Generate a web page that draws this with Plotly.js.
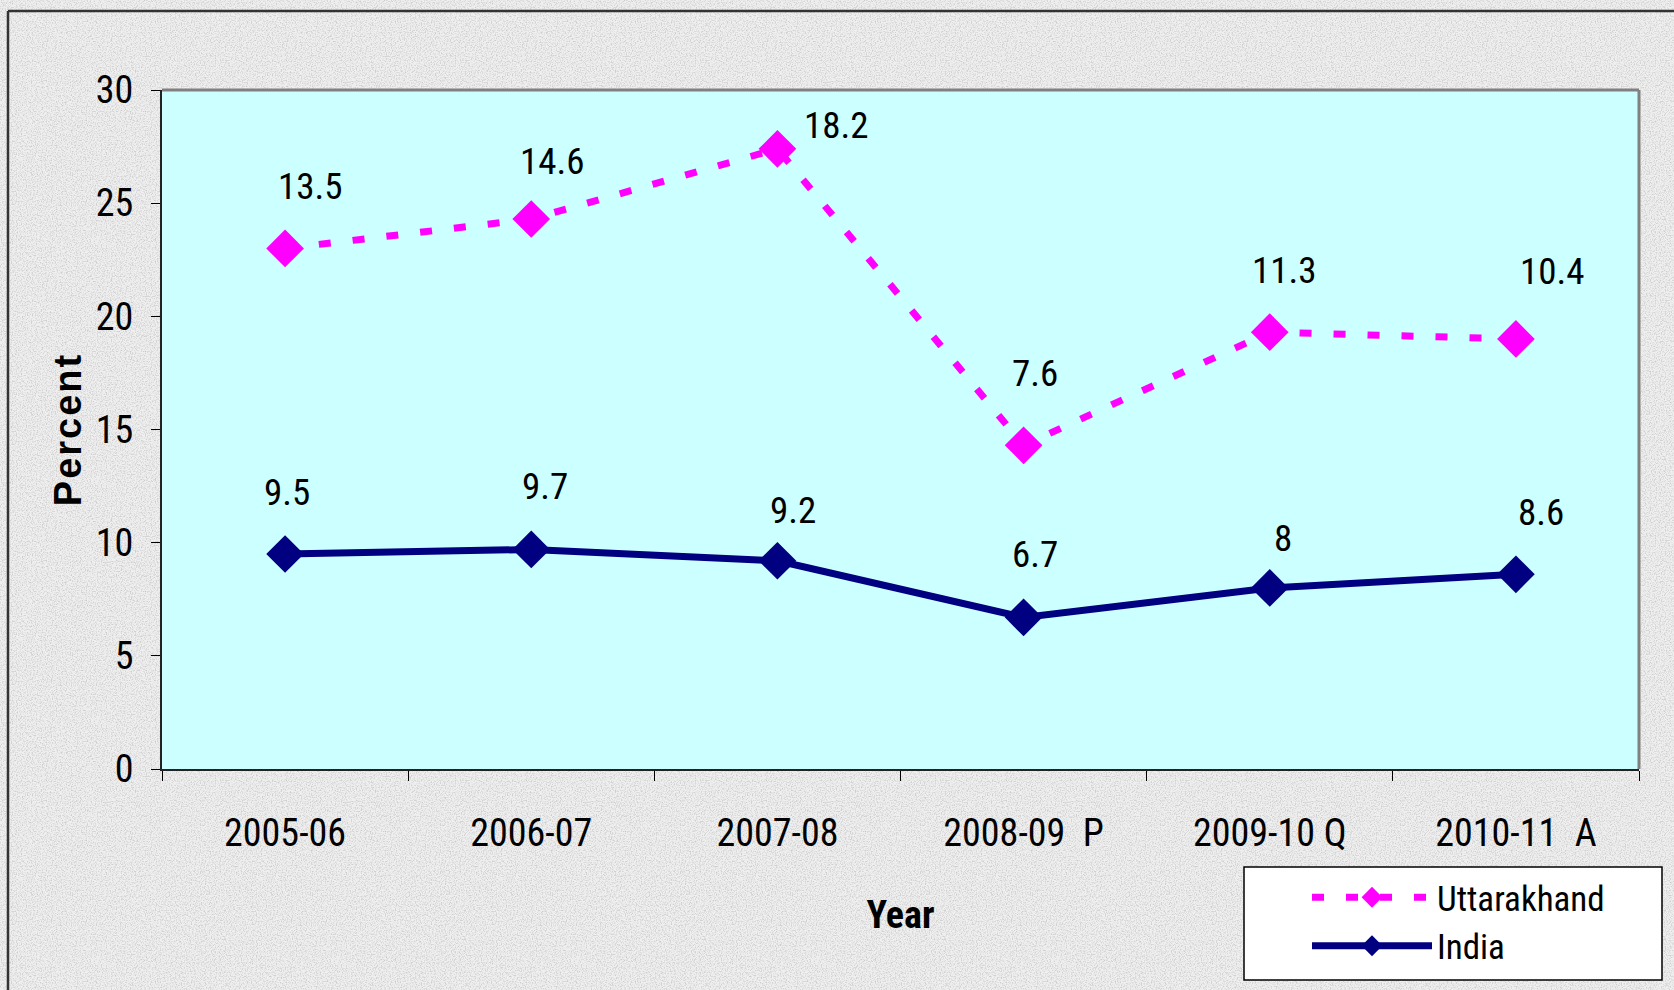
<!DOCTYPE html>
<html>
<head>
<meta charset="utf-8">
<script src="https://cdn.plot.ly/plotly-3.0.1.min.js"></script>
<style>
  html, body { margin: 0; padding: 0; }
  body {
    width: 1674px; height: 990px; overflow: hidden;
    background-color: #e6e6e6;
    background-image: url("data:image/svg+xml;utf8,<svg xmlns='http://www.w3.org/2000/svg' width='240' height='240'><filter id='n'><feTurbulence type='fractalNoise' baseFrequency='0.8' numOctaves='2' stitchTiles='stitch'/><feColorMatrix values='0 0 0 0 0.62  0 0 0 0 0.62  0 0 0 0 0.62  0 0 0 3 -1.3'/></filter><rect width='100%' height='100%' fill='%23efefef'/><rect width='100%' height='100%' filter='url(%23n)'/></svg>");
  }
  #chart { width: 1674px; height: 990px; }
  svg text { font-stretch: condensed; }
  svg text.ytitle { font-stretch: normal; letter-spacing: 2px; }
</style>
</head>
<body>
<div id="chart"></div>
<script>
// ---- data ----
const years = ["2005-06", "2006-07", "2007-08", "2008-09  P", "2009-10 Q", "2010-11  A"];
const uttarakhand = [13.5, 14.6, 18.2, 7.6, 11.3, 10.4];
const india = [9.5, 9.7, 9.2, 6.7, 8, 8.6];
const yTicks = [0, 5, 10, 15, 20, 25, 30];

// ---- layout constants ----
const W = 1674, H = 990;
const M = { l: 162, r: 35, t: 90, b: 221, autoexpand: false };
const pw = W - M.l - M.r, ph = H - M.t - M.b;
const fx = px => (px - M.l) / pw;
const fy = py => (H - M.b - py) / ph;

const NARROW = "Roboto, 'Liberation Sans Narrow', 'Arial Narrow', sans-serif";
const BOLDW = "'Liberation Sans', Arial, sans-serif";

// label nudges (px) to mimic manually placed data labels
const uShiftX = [25, 21, 59, 11, 15, 37], uShiftY = [62, 58, 23, 72, 62, 67];
const iShiftX = [2, 14, 16, 11, 13, 25], iShiftY = [61, 63, 50, 63, 49, 62];

const traces = [
  {
    name: "India", x: years, y: india, type: "scatter", mode: "lines+markers",
    stackgroup: "s", fill: "none",
    line: { color: "#000080", width: 7 },
    marker: { symbol: "diamond", size: 29, color: "#000080" }
  },
  {
    name: "Uttarakhand", x: years, y: uttarakhand, type: "scatter", mode: "lines+markers",
    stackgroup: "s", fill: "none",
    line: { color: "#FF00FF", width: 7, dash: "12px,22px" },
    marker: { symbol: "diamond", size: 29, color: "#FF00FF" }
  }
];

const annotations = [];
years.forEach((c, i) => {
  annotations.push({
    x: c, y: india[i] + uttarakhand[i], xref: "x", yref: "y", text: String(uttarakhand[i]),
    showarrow: false, xshift: uShiftX[i], yshift: uShiftY[i],
    font: { family: NARROW, size: 37, color: "#000" }
  });
  annotations.push({
    x: c, y: india[i], xref: "x", yref: "y", text: String(india[i]),
    showarrow: false, xshift: iShiftX[i], yshift: iShiftY[i],
    font: { family: NARROW, size: 37, color: "#000" }
  });
});

const shapes = [
  // outer frame (top and left visible)
  { type: "line", xref: "paper", yref: "paper", x0: fx(8), x1: fx(W + 5), y0: fy(11), y1: fy(11), line: { color: "#333", width: 2.5 } },
  { type: "line", xref: "paper", yref: "paper", x0: fx(8), x1: fx(8), y0: fy(11), y1: fy(H + 5), line: { color: "#333", width: 2.5 } },
  // plot area border top/right (grey)
  { type: "line", xref: "paper", yref: "paper", x0: 0, x1: 1, y0: 1, y1: 1, line: { color: "#808080", width: 3 } },
  { type: "line", xref: "paper", yref: "paper", x0: 1, x1: 1, y0: 0, y1: 1, line: { color: "#808080", width: 3 } },
  // legend box
  { type: "rect", xref: "paper", yref: "paper", x0: fx(1244), x1: fx(1662), y0: fy(867), y1: fy(980),
    fillcolor: "#ffffff", line: { color: "#000", width: 1.5 }, layer: "above" }
];

const layout = {
  width: W, height: H,
  margin: M,
  paper_bgcolor: "rgba(0,0,0,0)",
  plot_bgcolor: "#CCFFFF",
  showlegend: true,
  legend: {
    x: fx(1307), y: fy(868), xanchor: "left", yanchor: "top",
    bgcolor: "rgba(0,0,0,0)", borderwidth: 0,
    traceorder: "reversed",
    itemwidth: 120,
    font: { family: NARROW, size: 35, color: "#000" },
    tracegroupgap: 0
  },
  xaxis: {
    type: "category", range: [-0.5, 5.5], tickson: "boundaries",
    ticks: "outside", ticklen: 10, tickwidth: 1, tickcolor: "#000",
    showline: true, linecolor: "#222", linewidth: 2,
    showgrid: false, zeroline: false, fixedrange: true,
    ticklabelstandoff: 29,
    tickfont: { family: NARROW, size: 38, color: "#000" },
    title: { text: "<b>Year</b>", standoff: 48, font: { family: NARROW, size: 38, color: "#000" } }
  },
  yaxis: {
    range: [0, 30], tickvals: yTicks, ticktext: yTicks.map(String),
    ticks: "outside", ticklen: 9, tickwidth: 1, tickcolor: "#000",
    showline: true, linecolor: "#222", linewidth: 2,
    showgrid: false, zeroline: false, fixedrange: true,
    ticklabelstandoff: 10,
    tickfont: { family: NARROW, size: 38, color: "#000" },
    title: { text: "<b>Percent</b>", standoff: 3, font: { family: BOLDW, size: 38, color: "#000" } }
  },
  annotations: annotations,
  shapes: shapes
};

Plotly.newPlot("chart", traces, layout, { displayModeBar: false, staticPlot: true });
</script>
</body>
</html>
